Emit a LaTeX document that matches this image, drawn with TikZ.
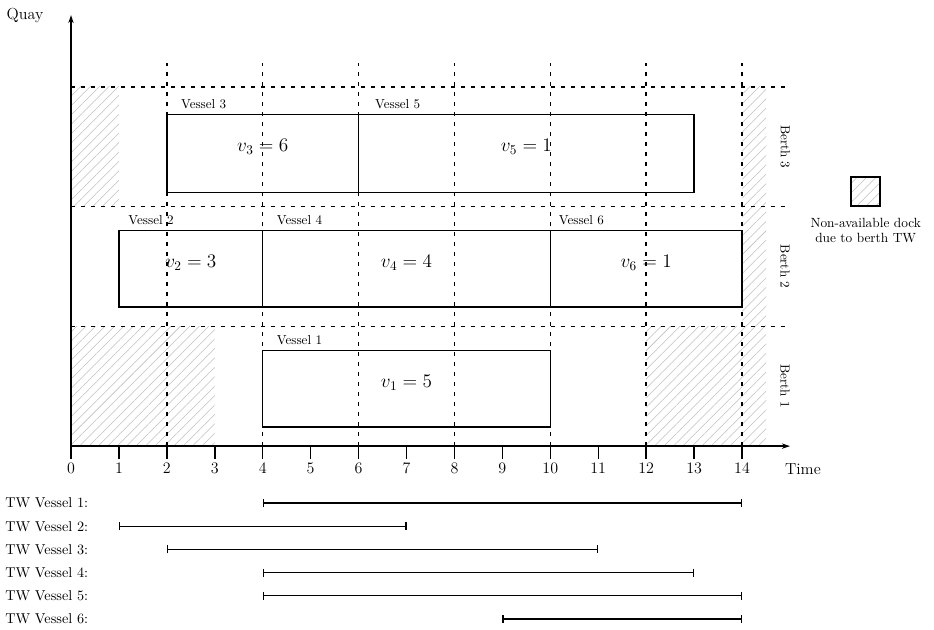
\documentclass[tikz,border=0pt]{standalone}
\usepackage{tikz}
\usetikzlibrary{positioning,arrows.meta,patterns.meta,fit}

\begin{document}
\begin{tikzpicture}[x=35.95pt,y=89.8pt,>={Stealth[length=6pt,width=4pt]},
  vbox/.style={draw,line width=1.1pt,inner sep=0pt,font=\fontsize{14}{16}\selectfont},
  vlab/.style={anchor=south west,inner sep=0pt,yshift=3.5pt,font=\fontsize{9.8}{11}\selectfont},
  grid/.style={line width=1.1pt,dash pattern=on 3pt off 4.5pt},
  na/.style={pattern={Lines[angle=45,distance=5pt,line width=0.4pt]},pattern color=black!25},
  ax/.style={line width=1.1pt},
  lab/.style={font=\fontsize{12}{14}\selectfont},
  berth/.style={rotate=-90,font=\fontsize{9.8}{11}\selectfont},
  twlab/.style={anchor=west,inner sep=0pt,font=\fontsize{10.7}{12}\selectfont},
  tw/.style={line width=1pt,{Bar[width=6pt]}-{Bar[width=6pt]}}]
\useasboundingbox (-1.481,-1.529) rectangle (18.005,3.726);
% non-available docks
\fill[na] (0,2) rectangle (1,3);
\fill[na] (0,0) rectangle (3,1);
\fill[na] (12,0) rectangle (14,1);
\fill[na] (14,0) rectangle (14.5,3);
% grid
\foreach \t in {2,4,...,14} \draw[grid] (\t,0) -- (\t,3.2);
\foreach \b in {1,2,3} \draw[grid] (0,\b) -- (15,\b);
% vessels
\foreach \n/\xa/\ya/\xb/\yb/\v/\dx in {1/4/0.16/10/0.80/5/11pt,2/1/1.16/4/1.80/3/7.5pt,
    4/4/1.16/10/1.80/4/11pt,6/10/1.16/14/1.80/1/6.75pt,3/2/2.12/6/2.77/6/11pt,5/6/2.12/13/2.77/1/12.75pt} {
  \node[vbox,fit={(\xa,\ya) (\xb,\yb)}] (v\n) {$v_{\n} = \v$};
  \node[vlab,xshift=\dx] (l\n) at (v\n.north west) {Vessel \n};
}
% axes
\draw[ax,->] (0,0) -- (15,0);
\draw[ax,->] (0,0) -- (0,3.6);
\foreach \t in {0,...,14} \draw[ax] (\t,0) -- (\t,-0.109) node[below,lab,inner sep=2pt] {\t};
\node[lab] (quay) at (-0.96,3.6) {Quay};
\node[lab] (time) at (15.27,-0.19) {Time};
\foreach \b in {1,2,3} \node[berth] (berth\b) at (14.9,\b-0.5) {Berth \b};
% key
\node[draw,na,line width=1.1pt,minimum size=21.75pt,inner sep=0pt] (key) at (16.58,2.126) {};
\node[below=5pt of key,align=center,font=\fontsize{10}{11.25}\selectfont] (keytxt) {Non-available dock\\due to berth TW};
% time windows
\foreach \i/\s/\e in {1/4/14,2/1/7,3/2/11,4/4/13,5/4/14,6/9/14} {
  \pgfmathsetmacro\y{-0.476-0.1935*(\i-1)}
  \node[twlab] (tw\i) at (-1.377,\y) {TW Vessel \i:};
  \draw[tw] (\s,\y) -- (\e,\y);
}
\end{tikzpicture}
\end{document}
